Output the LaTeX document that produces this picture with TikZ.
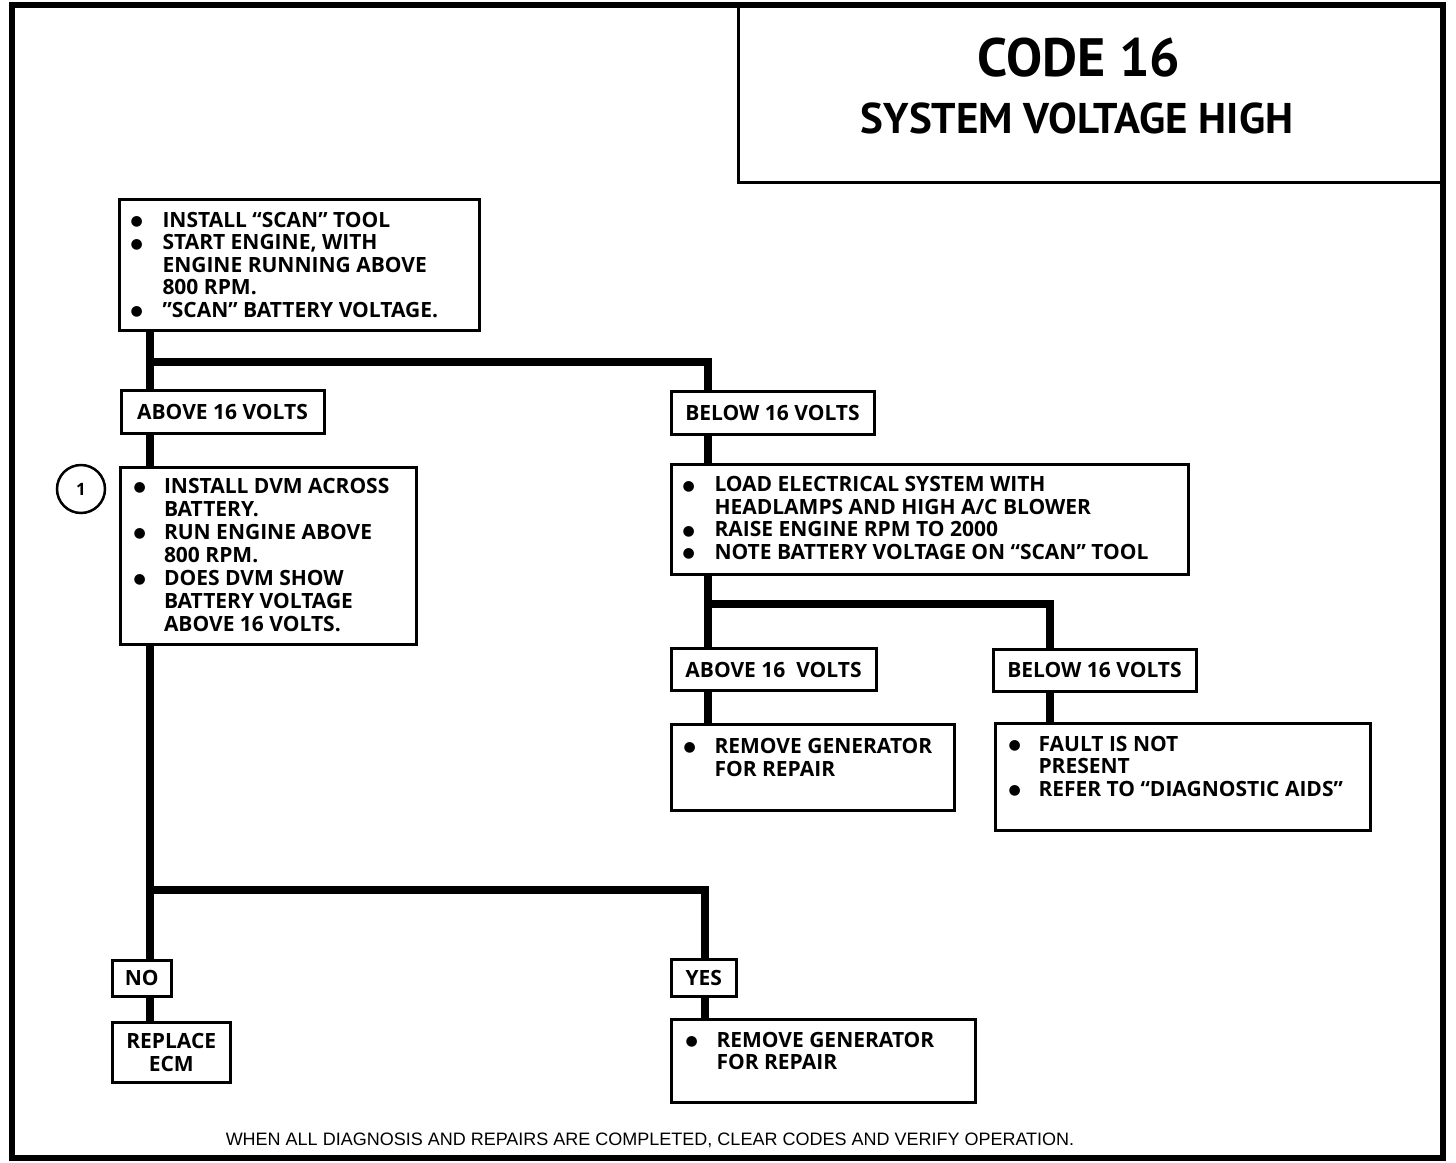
\documentclass[tikz,border=0pt]{standalone}
\usepackage{fontspec}
\setmainfont{Open Sans}
\newfontfamily\titlefont{PT Sans}
\newfontfamily\dejavu{DejaVu Sans}
\newfontfamily\footfont{Liberation Sans}
\newcommand{\bul}{{\dejavu\fontsize{14}{14}\selectfont\raisebox{1.5pt}{●}}}
% width, height, left pad, top pad, content, baselineskip
\newcommand{\tbox}[6]{\parbox[c][#2][t]{#1}{\fontsize{21}{#6}\selectfont\vspace*{#4}\hspace*{#3}#5}}
\newcommand{\bl}[2]{\begin{tabular}[t]{@{}p{#1}@{}l@{}}#2\end{tabular}}
\newcommand{\lbox}[3]{\parbox[c][#2][c]{#1}{\centering\fontsize{21}{23}\selectfont #3}}
\tikzset{
  box/.style={draw, line width=3pt, inner sep=0pt, anchor=north west, font=\bfseries},
  conn/.style={line width=8pt},
  ttl/.style={font=\titlefont\bfseries, anchor=base, inner sep=0pt},
}
\begin{document}
\begin{tikzpicture}[x=1pt,y=-1pt]
\useasboundingbox (0,0) rectangle (1456,1162);
\draw[line width=6pt] (12,5) rectangle (1443,1158);
% title
\node[box, minimum width=706pt, minimum height=176pt] (title) at (737,5) {};
\node[ttl] (t1) at (1079,76) {\fontsize{54}{60}\selectfont CODE 16};
\node[ttl] (t2) at (1077,133) {\fontsize{43}{48}\selectfont SYSTEM VOLTAGE HIGH};
% boxes
\node[box] (A) at (117.5,197.5) {\tbox{360pt}{131pt}{11.5pt}{12.5pt}{\bl{32pt}{%
\bul & INSTALL “SCAN” TOOL\\
\bul & START ENGINE, WITH\\
     & ENGINE RUNNING ABOVE\\
     & 800 RPM.\\
\bul & ”SCAN” BATTERY VOLTAGE.}}{22.5pt}};
\node[box] (ab1) at (119.5,389) {\lbox{203pt}{42.5pt}{ABOVE 16 VOLTS}};
\node[box] (bl1) at (669.5,390) {\lbox{203pt}{42.5pt}{BELOW 16 VOLTS}};
\node[box] (B) at (119,466) {\tbox{295.5pt}{177pt}{13pt}{9.5pt}{\bl{30.5pt}{%
\bul & INSTALL DVM ACROSS\\
     & BATTERY.\\
\bul & RUN ENGINE ABOVE\\
     & 800 RPM.\\
\bul & DOES DVM SHOW\\
     & BATTERY VOLTAGE\\
     & ABOVE 16 VOLTS.}}{23pt}};
\node[draw, circle, line width=2.5pt, minimum size=48pt, inner sep=0pt, font=\bfseries\fontsize{17}{17}\selectfont] (c1) at (81,489) {1};
\node[box] (C) at (669.5,462.5) {\tbox{517.5pt}{110pt}{11.5pt}{11.75pt}{\bl{32pt}{%
\bul & LOAD ELECTRICAL SYSTEM WITH\\
     & HEADLAMPS AND HIGH A/C BLOWER\\
\bul & RAISE ENGINE RPM TO 2000\\
\bul & NOTE BATTERY VOLTAGE ON “SCAN” TOOL}}{22.5pt}};
\node[box] (ab2) at (669.5,647) {\lbox{205pt}{42pt}{ABOVE 16\ \ VOLTS}};
\node[box] (bl2) at (991.5,648) {\lbox{203pt}{41.5pt}{BELOW 16 VOLTS}};
\node[box] (rg1) at (669.5,723) {\tbox{283pt}{85.5pt}{12.5pt}{12.4pt}{\bl{31pt}{%
\bul & REMOVE GENERATOR\\
     & FOR REPAIR}}{23pt}};
\node[box] (fa) at (993.5,722) {\tbox{375pt}{107pt}{13.5pt}{11.75pt}{\bl{30pt}{%
\bul & FAULT IS NOT\\
     & PRESENT\\
\bul & REFER TO “DIAGNOSTIC AIDS”}}{22.5pt}};
\node[box] (no) at (111,958.5) {\lbox{58.5pt}{36.5pt}{NO}};
\node[box] (rep) at (111,1021) {\lbox{117.5pt}{60pt}{REPLACE\\ECM}};
\node[box] (yes) at (670,958) {\lbox{64.5pt}{37pt}{YES}};
\node[box] (rg2) at (670,1018) {\tbox{304pt}{83pt}{14pt}{11.75pt}{\bl{31pt}{%
\bul & REMOVE GENERATOR\\
     & FOR REPAIR}}{22.5pt}};
% junctions
\coordinate (j1) at (150,362);
\coordinate (j2) at (708,604);
\coordinate (j3) at (150,890);
% connectors
\draw[conn] (150,0 |- A.south) -- (150,0 |- ab1.north);
\draw[conn] (j1) -| (708,0 |- bl1.north);
\draw[conn] (150,0 |- ab1.south) -- (150,0 |- B.north);
\draw[conn] (150,0 |- B.south) -- (150,0 |- no.north);
\draw[conn] (j3) -| (705,0 |- yes.north);
\draw[conn] (150,0 |- no.south) -- (150,0 |- rep.north);
\draw[conn] (705,0 |- yes.south) -- (705,0 |- rg2.north);
\draw[conn] (708,0 |- bl1.south) -- (708,0 |- C.north);
\draw[conn] (708,0 |- C.south) -- (708,0 |- ab2.north);
\draw[conn] (j2) -| (1050,0 |- bl2.north);
\draw[conn] (708,0 |- ab2.south) -- (708,0 |- rg1.north);
\draw[conn] (1050,0 |- bl2.south) -- (1050,0 |- fa.north);
% footer
\node[font=\footfont\fontsize{18}{20}\selectfont, inner sep=0pt, anchor=base] (foot) at (650,1145)
  {WHEN ALL DIAGNOSIS AND REPAIRS ARE COMPLETED, CLEAR CODES AND VERIFY OPERATION.};
\end{tikzpicture}
\end{document}
